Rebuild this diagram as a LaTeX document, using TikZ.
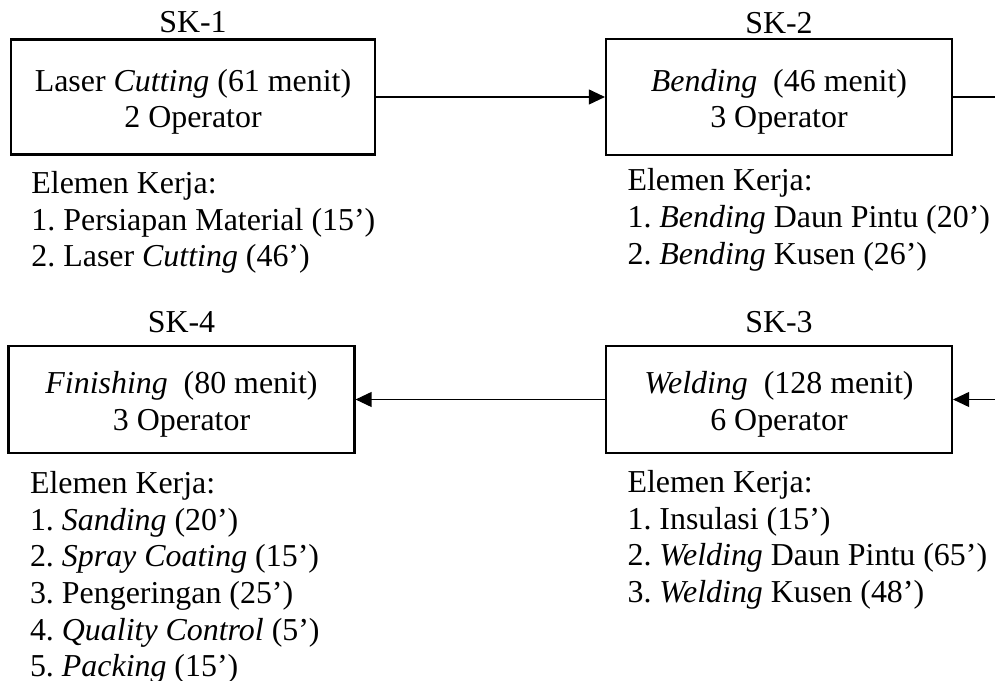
\documentclass[tikz,border=0pt]{standalone}
\usepackage{fontspec}
\setmainfont{Liberation Serif}
\usepackage{tikz}
\usetikzlibrary{arrows.meta, positioning}

\newcommand\boxstrut{\rule{0pt}{12pt}}
\frenchspacing

\begin{document}
\begin{tikzpicture}[
  x=0.376pt, y=-0.376pt,
  every node/.style={font=\fontsize{12}{13.8}\selectfont, inner sep=0pt},
  station/.style={rectangle, draw=black, line width=0.8pt, align=center,
                  minimum width=130.1pt, minimum height=40.2pt},
  tasklist/.style={align=left},
  arrow/.style={-{Triangle[length=6pt, width=5.6pt]}, line width=0.4pt}
]
\useasboundingbox (0,0) rectangle (995,681);

% ---- Stations ----
\node (cut)    [station, minimum width=136.9pt, minimum height=43.2pt] at (193,97)
  {\boxstrut Laser \textit{Cutting} (61 menit)\\ 2 Operator};
\node (bend)   [station, minimum height=43.6pt] at (779,97)
  {\boxstrut\textit{Bending}\ \ (46 menit)\\ 3 Operator};
\node (weld)   [station] at (779,399.5)
  {\boxstrut\textit{Welding}\ \ (128 menit)\\ 6 Operator};
\node (finish) [station] at (181.5,399.5)
  {\boxstrut\textit{Finishing}\ \ (80 menit)\\ 3 Operator};

% ---- Station labels ----
\node (cutlab)    [above=1.9pt of cut]    {SK-1};
\node (bendlab)   [above=1.5pt of bend]   {SK-2};
\node (weldlab)   [above=4.5pt of weld]   {SK-3};
\node (finishlab) [above=4.5pt of finish] {SK-4};

% ---- Work elements ----
\node (cutlist) [tasklist, below=2.1pt of cut.south west, anchor=north west, xshift=7.9pt]
  {\boxstrut Elemen Kerja:\\ 1. Persiapan Material (15’)\\ 2. Laser \textit{Cutting} (46’)};
\node (bendlist) [tasklist, below=0.8pt of bend.south west, anchor=north west, xshift=8.3pt]
  {\boxstrut Elemen Kerja:\\ 1. \textit{Bending} Daun Pintu (20’)\\ 2. \textit{Bending} Kusen (26’)};
\node (weldlist) [tasklist, below=2.3pt of weld.south west, anchor=north west, xshift=8.3pt]
  {\boxstrut Elemen Kerja:\\ 1. Insulasi (15’)\\ 2. \textit{Welding} Daun Pintu (65’)\\
   3. \textit{Welding} Kusen (48’)};
\node (finishlist) [tasklist, below=2.6pt of finish.south west, anchor=north west, xshift=8.3pt]
  {\boxstrut Elemen Kerja:\\ 1. \textit{Sanding} (20’)\\ 2. \textit{Spray Coating} (15’)\\
   3. Pengeringan (25’)\\ 4. \textit{Quality Control} (5’)\\ 5. \textit{Packing} (15’)};

% ---- Arrows ----
\coordinate (bendout) at (995,97);
\coordinate (weldin)  at (995,399.5);
\draw [arrow] (cut.east) -- (bend.west);
\draw [line width=0.4pt] (bend.east) -- (bendout);
\draw [arrow] (weldin) -- (weld.east);
\draw [arrow] (weld.west) -- (finish.east);
\end{tikzpicture}
\end{document}
